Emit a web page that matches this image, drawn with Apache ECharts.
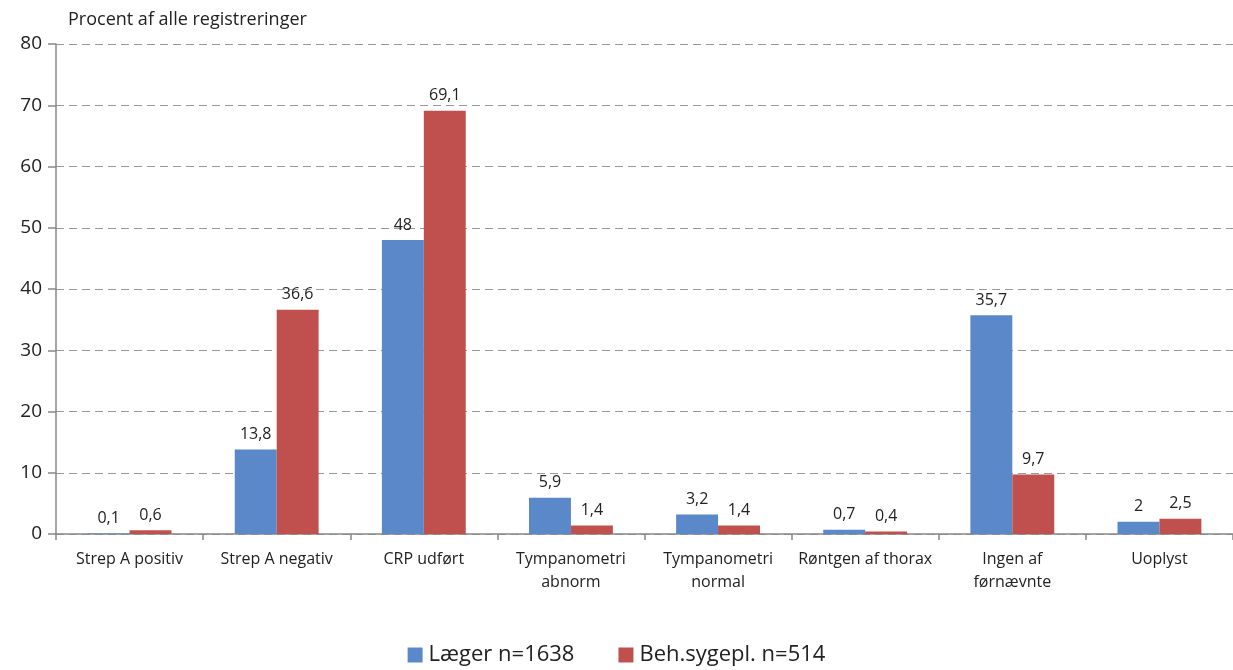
<!DOCTYPE html>
<html><head><meta charset="utf-8">
<script src="https://cdn.jsdelivr.net/npm/echarts@6/dist/echarts.min.js"></script>
<style>html,body{margin:0;padding:0;background:#fff}#c{width:1233px;height:670px}</style>
</head><body><div id="c"></div>
<script>
const categories = ["Strep A positiv","Strep A negativ","CRP udført","Tympanometri\nabnorm","Tympanometri\nnormal","Røntgen af thorax","Ingen af\nførnævnte","Uoplyst"];
const laeger = [0.1,13.8,48,5.9,3.2,0.7,35.7,2];
const behSygepl = [0.6,36.6,69.1,1.4,1.4,0.4,9.7,2.5];
const seriesNames = ["Læger n=1638","Beh.sygepl. n=514"];
const yTitle = "Procent af alle registreringer";

const FONT = "'Open Sans', sans-serif";
const chart = echarts.init(document.getElementById('c'));
const lbl = {show:true, position:'top', distance:7, color:'#222', fontSize:16, fontFamily:FONT,
  formatter: p => String(p.value).replace('.', ',')};
chart.setOption({
  animation:false,
  textStyle:{fontFamily:FONT},
  grid:{left:56, top:44, width:1184, bottom:136, containLabel:false},
  legend:{top:644, left:'center', padding:0, itemWidth:15, itemHeight:15, itemGap:44, icon:'rect',
    textStyle:{fontSize:22, color:'#222', fontFamily:FONT, padding:[0,0,0,1]}},
  xAxis:{type:'category', data:categories,
    axisLine:{lineStyle:{color:'#888', width:1.5}},
    axisTick:{show:true, length:6, lineStyle:{color:'#888', width:1.5}},
    axisLabel:{color:'#222', fontSize:16, fontFamily:FONT, margin:14, lineHeight:23, interval:0}},
  yAxis:{type:'value', min:0, max:80, interval:10,
    name:yTitle, nameLocation:'end', nameGap:15, nameTextStyle:{align:'left', color:'#222', fontSize:18, fontFamily:FONT, padding:[0,0,0,12]},
    axisLine:{show:true, lineStyle:{color:'#888', width:1.5}},
    axisTick:{show:true, length:8, lineStyle:{color:'#888', width:1.5}},
    axisLabel:{color:'#222', fontSize:19, fontFamily:FONT, margin:14},
    splitLine:{lineStyle:{color:'#999', type:[8,5], width:1}}},
  series:[
    {name:seriesNames[0], type:'bar', data:laeger, barGap:'0%', barCategoryGap:'43%', itemStyle:{color:'#5A88C8'}, label:lbl},
    {name:seriesNames[1], type:'bar', data:behSygepl, barGap:'0%', barCategoryGap:'43%', itemStyle:{color:'#C0504D'}, label:lbl}
  ]
});
</script></body></html>
